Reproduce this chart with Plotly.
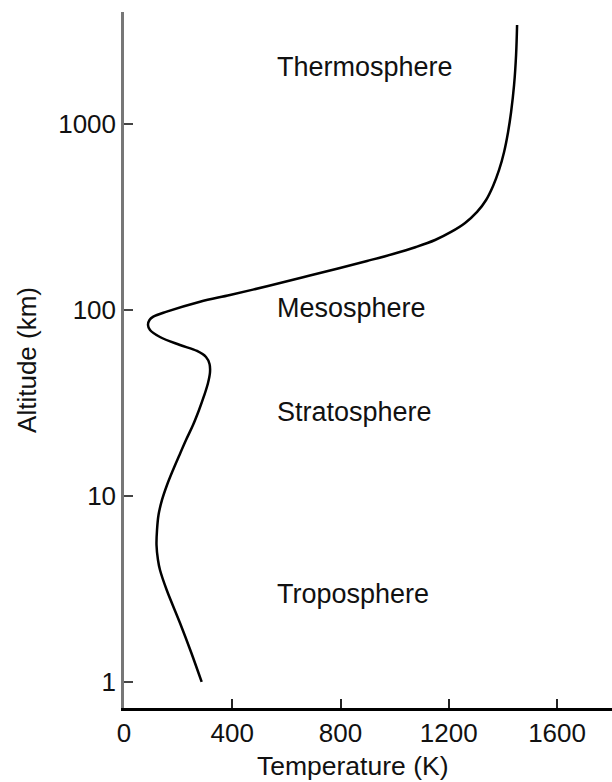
import math
import plotly.graph_objects as go

# Standard atmosphere temperature profile (schematic)
altitude_km = [1.0, 1.45, 2.076, 3.123, 4.001, 4.529, 5.453, 6.565, 7.904, 9.517,
               11.46, 13.80, 16.41, 20.00, 24.08, 29.00, 34.48, 40.51, 46.42, 51.25,
               55.88, 60.20, 64.84, 71.58, 78.06, 83.07, 88.36, 92.04, 97.93, 110.8,
               120.4, 134.6, 150.4, 167.2, 183.4, 200.0, 218.2, 237.8, 262.7, 293.6,
               336.5, 390.3, 464.2, 565.8, 707.2, 905.8, 1160, 1621, 2350, 3406]
temperature_k = [287, 247.6, 206.9, 157.8, 133.0, 125.6, 120.1, 122.0, 127.5, 140.4,
                 158.9, 181.1, 203.3, 229.1, 255.0, 277.2, 295.6, 310.4, 317.8, 316.0,
                 303.0, 269.8, 206.9, 133.0, 96.1, 88.7, 94.2, 108.3, 157.8, 280.9,
                 391.7, 532.2, 665.2, 790.8, 898.0, 994.1, 1079.1, 1149.3, 1208.4, 1260.2,
                 1304.5, 1337.8, 1363.6, 1385.8, 1404.3, 1419.1, 1430.2, 1441.2, 1448.6, 1452.3]

layer_names = ["Thermosphere", "Mesosphere", "Stratosphere", "Troposphere"]
layer_alt_km = [2024, 102.5, 28.3, 2.97]
layer_temp_k = [558, 558, 558, 558]

x_ticks = [0, 400, 800, 1200, 1600]
y_ticks = [1, 10, 100, 1000]
y_tick_text = ["1", "10", "100", "1000"]

FONT = "Liberation Sans, Arial, sans-serif"

fig = go.Figure()
fig.add_trace(go.Scatter(
    x=temperature_k, y=altitude_km, mode="lines",
    line=dict(color="black", width=2.5, shape="spline", smoothing=1.0),
    hoverinfo="skip", showlegend=False,
))

# Layer labels (annotation y on a log axis is given in log10 units)
for name, alt, temp in zip(layer_names, layer_alt_km, layer_temp_k):
    fig.add_annotation(x=temp, y=math.log10(alt), xref="x", yref="y", text=name,
                       showarrow=False, xanchor="left", yanchor="middle",
                       font=dict(family=FONT, size=27, color="#111"))

fig.add_annotation(x=843, y=-0.083, xref="x", yref="paper", text="Temperature (K)",
                   showarrow=False, xanchor="center", yanchor="middle",
                   font=dict(family=FONT, size=26.5, color="#111"))
fig.add_annotation(x=-0.199, y=0.5, xref="paper", yref="paper", text="Altitude (km)",
                   textangle=-90, showarrow=False, xanchor="center", yanchor="middle",
                   font=dict(family=FONT, size=26, color="#111"))

fig.update_layout(
    width=612, height=782,
    margin=dict(l=124, r=0, t=12, b=74),
    paper_bgcolor="white", plot_bgcolor="white",
    font=dict(family=FONT, size=26, color="#111"),
)
fig.update_xaxes(
    range=[0, 1803], tickvals=x_ticks, showgrid=False, zeroline=False,
    showline=True, linecolor="black", linewidth=2.5,
    ticks="inside", ticklen=9, tickwidth=1.5, tickcolor="#222",
    tickfont=dict(family=FONT, size=26, color="#111"),
)
fig.update_yaxes(
    type="log", range=[-0.14, 3.602], tickvals=y_ticks, ticktext=y_tick_text,
    showgrid=False, zeroline=False,
    showline=True, linecolor="#777", linewidth=2.5,
    ticks="inside", ticklen=9, tickwidth=1.5, tickcolor="#444",
    tickfont=dict(family=FONT, size=26, color="#111"),
)

fig.write_html("out.html")
